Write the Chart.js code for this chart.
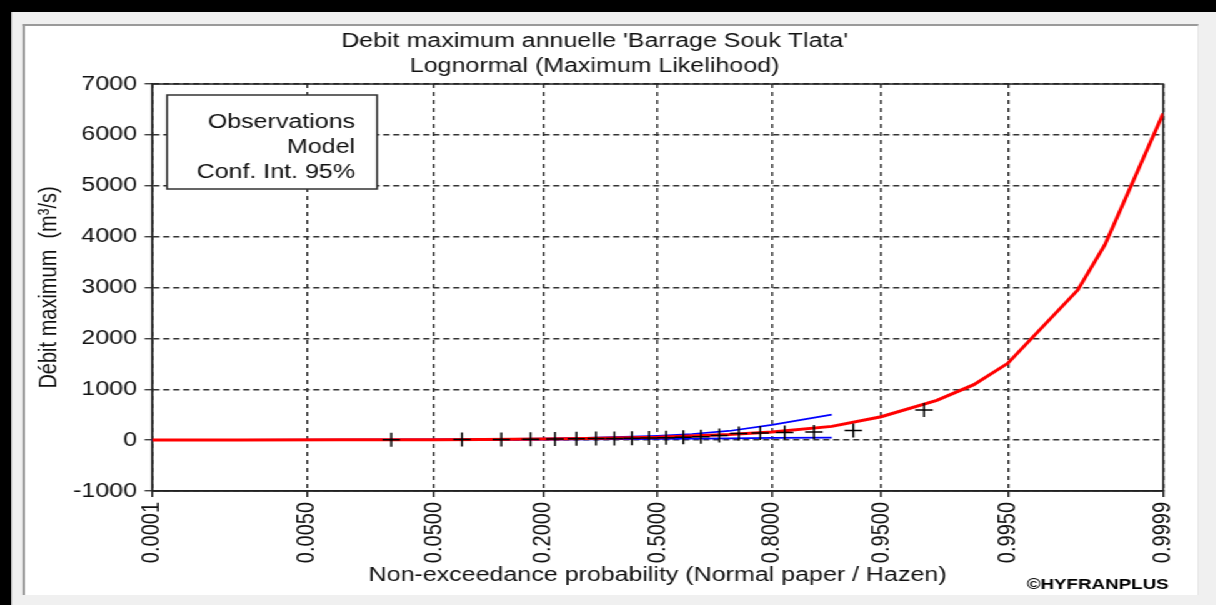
<!DOCTYPE html>
<html>
<head>
<meta charset="utf-8">
<script src="https://cdn.jsdelivr.net/npm/chart.js@4/dist/chart.umd.min.js"></script>
<style>
  html, body { margin: 0; padding: 0; background: #f0f0f0; overflow: hidden; }
  /* the reference screenshot is stretched horizontally, so the whole page is drawn at 1/1.25 width */
  #wrap { position: absolute; left: 0; top: 0; width: 973px; height: 605px; transform: scaleX(1.25); transform-origin: 0 0; }
  #topbar { position: absolute; left: 0; top: 0; width: 973px; height: 12px; background: #000; }
  #leftbar { position: absolute; left: 0; top: 0; width: 9px; height: 605px; background: #000; }
  #panel { position: absolute; left: 18.4px; top: 24px; width: 940.8px; height: 571px; box-sizing: border-box;
           background: #fff; border-top: 2.5px solid #9a9a9a; border-left: 2px solid #9a9a9a; border-right: 1px solid #e2e2e2; }
  #cwrap { position: absolute; left: 0; top: 0; width: 973px; height: 605px; }
</style>
</head>
<body>
<div id="wrap">
  <div id="topbar"></div>
  <div id="leftbar"></div>
  <div id="panel"></div>
  <div id="cwrap"><canvas id="chart"></canvas></div>
</div>
<script>
// Données
const probTicks = [0.0001, 0.005, 0.05, 0.2, 0.5, 0.8, 0.95, 0.995, 0.9999];

// Observations (position de Hazen, n = 20)
const obsProb = [0.025, 0.075, 0.125, 0.175, 0.225, 0.275, 0.325, 0.375, 0.425, 0.475,
                 0.525, 0.575, 0.625, 0.675, 0.725, 0.775, 0.825, 0.875, 0.925, 0.975];
const obsFlow = [5, 10, 14, 18, 22, 26, 30, 34, 38, 42,
                 48, 55, 65, 90, 130, 140, 150, 160, 190, 590];

// Modèle lognormal
const modelProb = [0.0001, 0.001, 0.01, 0.05, 0.1, 0.2, 0.3, 0.5, 0.7, 0.8, 0.9,
                   0.95, 0.98, 0.99, 0.995, 0.999, 0.9995, 0.9999];
const modelFlow = [1, 2, 5, 9, 13, 20, 30, 57, 110, 160, 270,
                   460, 780, 1090, 1510, 2950, 3840, 6420];

// Intervalle de confiance 95%
const ciProb = [0.0001, 0.001, 0.01, 0.05, 0.1, 0.2, 0.3, 0.4, 0.5, 0.6, 0.7, 0.8, 0.9];
const ciUpper = [2, 4, 8, 14, 20, 32, 45, 62, 85, 120, 180, 300, 500];
const ciLower = [0, 1, 2, 4, 6, 10, 14, 18, 24, 30, 36, 44, 50];

const fontFamily = "'Liberation Sans', Arial, sans-serif";
const textColor = '#111';

// Loi normale : quantile (Acklam) et fonction de répartition
function qnorm(p) {
    const a = [-3.969683028665376e+01, 2.209460984245205e+02, -2.759285104469687e+02, 1.383577518672690e+02, -3.066479806614716e+01, 2.506628277459239e+00];
    const b = [-5.447609879822406e+01, 1.615858368580409e+02, -1.556989798598866e+02, 6.680131188771972e+01, -1.328068155288572e+01];
    const c = [-7.784894002430293e-03, -3.223964580411365e-01, -2.400758277161838e+00, -2.549732539343734e+00, 4.374664141464968e+00, 2.938163982698783e+00];
    const d = [7.784695709041462e-03, 3.224671290700398e-01, 2.445134137142996e+00, 3.754408661907416e+00];
    const pl = 0.02425;
    if (p < pl) {
        const q = Math.sqrt(-2 * Math.log(p));
        return (((((c[0]*q+c[1])*q+c[2])*q+c[3])*q+c[4])*q+c[5]) / ((((d[0]*q+d[1])*q+d[2])*q+d[3])*q+1);
    }
    if (p > 1 - pl) {
        const q = Math.sqrt(-2 * Math.log(1 - p));
        return -(((((c[0]*q+c[1])*q+c[2])*q+c[3])*q+c[4])*q+c[5]) / ((((d[0]*q+d[1])*q+d[2])*q+d[3])*q+1);
    }
    const q = p - 0.5, r = q * q;
    return (((((a[0]*r+a[1])*r+a[2])*r+a[3])*r+a[4])*r+a[5])*q / (((((b[0]*r+b[1])*r+b[2])*r+b[3])*r+b[4])*r+1);
}
function pnorm(z) {
    const t = 1 / (1 + 0.3275911 * Math.abs(z) / Math.SQRT2);
    const y = 1 - (((((1.061405429*t - 1.453152027)*t) + 1.421413741)*t - 0.284496736)*t + 0.254829592)*t * Math.exp(-z*z/2);
    return z >= 0 ? 0.5 * (1 + y) : 0.5 * (1 - y);
}

// Échelle "papier normal"
class ProbitScale extends Chart.Scale {
    static id = 'probit';
    static defaults = {};
    determineDataLimits() {
        this.min = this.options.min;
        this.max = this.options.max;
    }
    buildTicks() {
        return probTicks.map(v => ({ value: v }));
    }
    configure() {
        super.configure();
        this._zMin = qnorm(this.min);
        this._zRange = qnorm(this.max) - this._zMin;
    }
    getLabelForValue(v) { return v.toFixed(4); }
    getPixelForValue(v) {
        if (v === null || v === undefined || isNaN(v)) return NaN;
        return this.getPixelForDecimal((qnorm(v) - this._zMin) / this._zRange);
    }
    getValueForPixel(px) {
        return pnorm(this._zMin + this.getDecimalForPixel(px) * this._zRange);
    }
}
Chart.register(ProbitScale);

const toPoints = (xs, ys) => xs.map((x, i) => ({ x: x, y: ys[i] }));

// Cadre du graphique, encadré de légende et copyright
const extras = {
    id: 'extras',
    beforeDatasetsDraw(chart) {
        const a = chart.chartArea, ctx = chart.ctx;
        ctx.save();
        ctx.strokeStyle = '#222';
        ctx.lineWidth = 1.5;
        ctx.strokeRect(a.left, a.top, a.right - a.left, a.bottom - a.top);
        ctx.restore();
    },
    afterDatasetsDraw(chart) {
        const ctx = chart.ctx;
        const labels = [];
        chart.data.datasets.forEach(ds => { if (!labels.includes(ds.label)) labels.push(ds.label); });
        ctx.save();
        ctx.fillStyle = '#fff';
        ctx.fillRect(133.6, 95, 168, 94);
        ctx.strokeStyle = '#333';
        ctx.lineWidth = 1.5;
        ctx.strokeRect(133.6, 95, 168, 94);
        ctx.font = '20px ' + fontFamily;
        ctx.fillStyle = textColor;
        ctx.textAlign = 'right';
        ctx.textBaseline = 'middle';
        labels.forEach((t, i) => ctx.fillText(t, 284, 122 + i * 25));
        ctx.font = 'bold 15px ' + fontFamily;
        ctx.fillStyle = '#000';
        ctx.fillText('\u00A9HYFRANPLUS', 935, 585);
        ctx.restore();
    }
};

new Chart(document.getElementById('chart'), {
    type: 'line',
    data: {
        datasets: [{
            label: 'Observations',
            data: toPoints(obsProb, obsFlow),
            showLine: false,
            pointStyle: 'cross',
            pointRadius: 7,
            pointBorderWidth: 1.5,
            pointBorderColor: '#000',
            pointBackgroundColor: '#000'
        }, {
            label: 'Model',
            data: toPoints(modelProb, modelFlow),
            borderColor: '#ff0000',
            borderWidth: 3,
            pointRadius: 0,
            tension: 0
        }, {
            label: 'Conf. Int. 95%',
            data: toPoints(ciProb, ciUpper),
            borderColor: '#0000ff',
            borderWidth: 1.7,
            pointRadius: 0,
            tension: 0
        }, {
            label: 'Conf. Int. 95%',
            data: toPoints(ciProb, ciLower),
            borderColor: '#0000ff',
            borderWidth: 1.7,
            pointRadius: 0,
            tension: 0
        }]
    },
    options: {
        responsive: true,
        maintainAspectRatio: false,
        animation: false,
        layout: { padding: { left: 20.8, top: 26, right: 42.4, bottom: 10 } },
        plugins: {
            legend: { display: false },
            tooltip: { enabled: false },
            title: {
                display: true,
                text: ["Debit maximum annuelle 'Barrage Souk Tlata'", 'Lognormal (Maximum Likelihood)'],
                color: textColor,
                font: { family: fontFamily, size: 20, weight: 'normal', lineHeight: 1.25 },
                padding: { top: 3, bottom: 5 }
            }
        },
        scales: {
            x: {
                type: 'probit',
                min: 0.0001,
                max: 0.9999,
                afterFit: s => { s.height = 104; },
                grid: { color: '#333', lineWidth: 1.5, tickLength: 6, tickColor: '#222', tickWidth: 1.5 },
                border: { display: true, color: '#222', width: 1.5, dash: [4, 4] },
                ticks: {
                    autoSkip: false,
                    minRotation: 90,
                    maxRotation: 90,
                    padding: 5,
                    color: textColor,
                    font: { family: fontFamily, size: 20 },
                    callback: v => Number(v).toFixed(4)
                },
                title: {
                    display: true,
                    text: 'Non-exceedance probability (Normal paper / Hazen)',
                    color: textColor,
                    font: { family: fontFamily, size: 20 },
                    padding: { top: 0, bottom: 8 }
                }
            },
            y: {
                type: 'linear',
                min: -1000,
                max: 7000,
                afterFit: s => { s.width = 100.8; },
                grid: {
                    color: ctx => (ctx.tick && ctx.tick.value % 1000 === 0) ? '#333' : 'rgba(0,0,0,0)',
                    lineWidth: 1.5,
                    tickLength: 6,
                    tickColor: '#222',
                    tickWidth: 1.2
                },
                border: { display: true, color: '#222', width: 1.5, dash: [5, 3] },
                ticks: {
                    stepSize: 500,
                    padding: 6,
                    color: textColor,
                    font: { family: fontFamily, size: 20 },
                    callback: v => (v % 1000 === 0 ? String(v) : '')
                },
                title: {
                    display: true,
                    text: 'Débit maximum  (m³/s)',
                    color: textColor,
                    font: { family: fontFamily, size: 20 },
                    padding: { top: 7, bottom: 0 }
                }
            }
        }
    },
    plugins: [extras]
});
</script>
</body>
</html>
